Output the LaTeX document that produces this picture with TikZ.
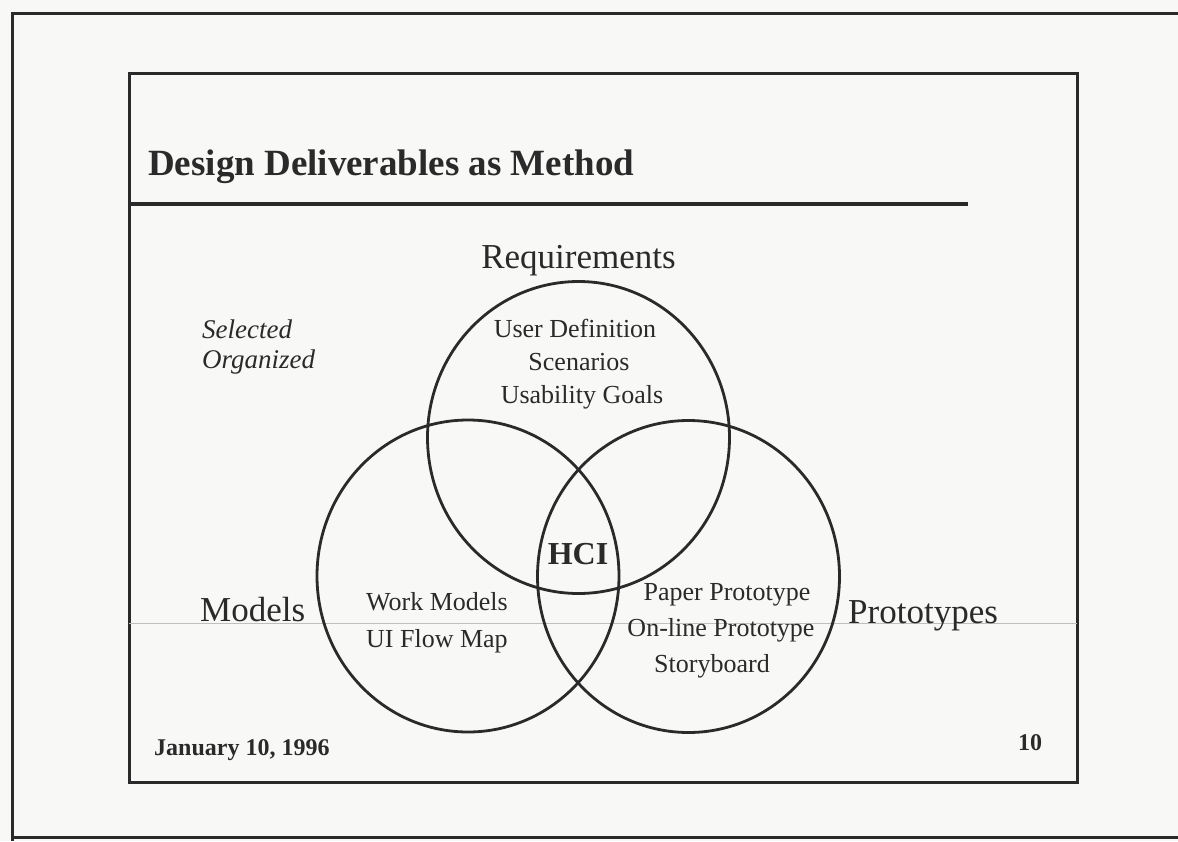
\documentclass[tikz,border=0pt]{standalone}
\usepackage{fontspec}
\setmainfont{Liberation Serif}
\usetikzlibrary{positioning, shapes.geometric}
\definecolor{PaperBg}{HTML}{F8F8F6}
\definecolor{InkA}{HTML}{2A2A2A}
\tikzset{
  frame/.style={draw=InkA, line width=3pt},
  ring/.style={draw=InkA, ellipse, line width=2.8pt, minimum width=302pt, minimum height=312pt, inner sep=0pt},
  big/.style={font=\fontsize{35}{40}\selectfont, text=InkA, inner sep=0pt, anchor=base},
  item/.style={font=\fontsize{26}{32}\selectfont, text=InkA, inner sep=0pt, anchor=base},
  slant/.style={font=\itshape\fontsize{27}{32}\selectfont, text=InkA, inner sep=0pt, anchor=base west},
  foot/.style={font=\bfseries\fontsize{24}{28}\selectfont, text=InkA, inner sep=0pt, anchor=base west}
}

\begin{document}
\begin{tikzpicture}[x=1pt, y=-1pt]
  \useasboundingbox[fill=PaperBg] (0,0) rectangle (1178,841);

  % slide frames
  \draw[frame] (12,841) -- (12,13) -- (1178,13);
  \draw[frame] (12,837) -- (1178,837);
  \draw[frame] (129,73) rectangle (1077,782);
  \draw[InkA, line width=3.2pt] (129,204) -- (968,204);
  \draw[black!25, line width=0.8pt] (129,623) -- (1077,623);

  \node[anchor=base west, inner sep=0pt, text=InkA, font=\bfseries\fontsize{37}{42}\selectfont] (title) at (148,175) {Design Deliverables as Method};

  % the three circles
  \node[ring] (req) at (578.5,437.5) {};
  \node[ring] (mod) at (468,576) {};
  \node[ring] (pro) at (688.5,576.5) {};

  \node[big] (reqlbl) at (578.5,268) {Requirements};
  \node[big, anchor=base west] (modlbl) at (200,621) {Models};
  \node[big, anchor=base west] (prolbl) at (848,623) {Prototypes};

  \node[slant] (sel) at (202,338) {Selected};
  \node[slant] (org) at (202,368) {Organized};

  \node[item] (udef) at (575,337) {User Definition};
  \node[item] (scen) at (579,370) {Scenarios};
  \node[item] (goal) at (582,403) {Usability Goals};

  \node[item, anchor=base west] (work) at (366,610) {Work Models};
  \node[item, anchor=base west] (flow) at (366,647) {UI Flow Map};

  \node[item] (paper) at (727,600) {Paper Prototype};
  \node[item] (online) at (721,636) {On-line Prototype};
  \node[item] (story) at (712,672) {Storyboard};

  \node[anchor=base, inner sep=0pt, text=InkA, font=\bfseries\fontsize{32}{36}\selectfont] (hci) at (578,564) {HCI};

  \node[foot] (date) at (154,755) {January 10, 1996};
  \node[foot] (page) at (1018,750) {10};
\end{tikzpicture}
\end{document}
